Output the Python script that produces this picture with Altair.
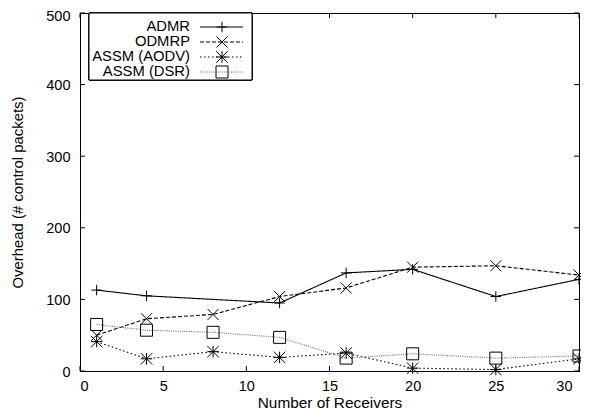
import altair as alt
import pandas as pd

# ---- data ----
series = ["ADMR", "ODMRP", "ASSM (AODV)", "ASSM (DSR)"]
x_admr = [1, 4, 12, 16, 20, 25, 30]
y_admr = [113, 105, 95, 137, 142, 104, 128]
x_common = [1, 4, 8, 12, 16, 20, 25, 30]
y_odmrp = [50, 73, 79, 104, 116, 145, 147, 134]
y_aodv = [41, 17, 27, 19, 25, 4, 2, 17]
y_dsr = [65, 57, 54, 47, 18, 24, 18, 21]
x_ticks = [0, 5, 10, 15, 20, 25, 30]
y_ticks = [0, 100, 200, 300, 400, 500]

rows = []
for x, y in zip(x_admr, y_admr):
    rows.append({"series": "ADMR", "x": x, "y": y})
for name, ys in [("ODMRP", y_odmrp), ("ASSM (AODV)", y_aodv), ("ASSM (DSR)", y_dsr)]:
    for x, y in zip(x_common, ys):
        rows.append({"series": name, "x": x, "y": y})
df = pd.DataFrame(rows)
df_leg = pd.DataFrame({"series": series, "row": list(range(len(series)))})
df_xt = pd.DataFrame({"t": x_ticks})
df_yt = pd.DataFrame({"t": y_ticks})

W, H = 499, 358
FONT = "Liberation Sans"

dash_scale = alt.Scale(domain=series, range=[[1, 0], [4, 2], [1.5, 2.5], [1, 1.2]])
color_scale = alt.Scale(domain=series, range=["#000000", "#000000", "#000000", "#6a6a6a"])
shape_scale = alt.Scale(
    domain=series,
    range=[
        "M-1,0L1,0M0,-1L0,1",
        "M-1,-1L1,1M-1,1L1,-1",
        "M-1,0L1,0M0,-1L0,1M-1,-1L1,1M-1,1L1,-1",
        "M-1,-1L1,-1L1,1L-1,1Z",
    ],
)
size_scale = alt.Scale(domain=series, range=[110, 144, 130, 100])

xs = alt.Scale(domain=[0, 30], nice=False, zero=False)
ys = alt.Scale(domain=[0, 500], nice=False)

x_enc = alt.X(
    "x:Q", scale=xs,
    axis=alt.Axis(values=x_ticks, title="Number of Receivers", ticks=False, tickSize=0,
                  labelPadding=8, grid=False, titleY=36.5, titleBaseline="alphabetic",
                  titleFontSize=15.4,
                  labelOffset={"condition": {"test": "datum.value == 30", "value": -7}, "value": 0}),
)
y_enc = alt.Y(
    "y:Q", scale=ys,
    axis=alt.Axis(values=y_ticks, title="Overhead (# control packets)", ticks=False, tickSize=0,
                  labelPadding=10, grid=False, titleX=-55, titleBaseline="bottom",
                  titleFontSize=14.9,
                  labelOffset={"condition": {"test": "datum.value == 500", "value": 3}, "value": 1}),
)

base = alt.Chart(df)
lines = base.mark_line(strokeWidth=1.1).encode(
    x=x_enc, y=y_enc,
    detail="series:N",
    strokeDash=alt.StrokeDash("series:N", scale=dash_scale, legend=None),
    color=alt.Color("series:N", scale=color_scale, legend=None),
)
points = base.mark_point(filled=False, strokeWidth=1, color="black", opacity=1).encode(
    x="x:Q", y="y:Q",
    shape=alt.Shape("series:N", scale=shape_scale, legend=None),
    size=alt.Size("series:N", scale=size_scale, legend=None),
)

tick_len = 5
xt_bot = alt.Chart(df_xt).mark_rule(color="black", strokeWidth=1).encode(
    x=alt.X("t:Q", scale=xs), y=alt.value(H), y2=alt.value(H - tick_len))
xt_top = alt.Chart(df_xt).mark_rule(color="black", strokeWidth=1).encode(
    x=alt.X("t:Q", scale=xs), y=alt.value(0), y2=alt.value(tick_len))
yt_left = alt.Chart(df_yt).mark_rule(color="black", strokeWidth=1).encode(
    y=alt.Y("t:Q", scale=ys), x=alt.value(0), x2=alt.value(tick_len))
yt_right = alt.Chart(df_yt).mark_rule(color="black", strokeWidth=1).encode(
    y=alt.Y("t:Q", scale=ys), x=alt.value(W), x2=alt.value(W - tick_len))

main = alt.layer(lines, points, xt_bot, xt_top, yt_left, yt_right)

# ---- legend (inside, top-left) ----
ly = alt.Y("row:Q", scale=alt.Scale(domain=[0, 3], range=[14, 59], nice=False, zero=False), axis=None)
leg_box = alt.Chart(df_leg).mark_rect(fill="white", stroke="black", strokeWidth=1).encode(
    x=alt.value(9), x2=alt.value(172), y=alt.value(0), y2=alt.value(67))
leg_text = alt.Chart(df_leg).mark_text(align="right", baseline="middle", font=FONT,
                                       fontSize=14.8, color="black").encode(
    x=alt.value(110), y=ly, text="series:N")
leg_line = alt.Chart(df_leg).mark_rule(strokeWidth=1.1).encode(
    x=alt.value(120), x2=alt.value(163), y=ly,
    strokeDash=alt.StrokeDash("series:N", scale=dash_scale, legend=None),
    color=alt.Color("series:N", scale=color_scale, legend=None),
)
leg_pts = alt.Chart(df_leg).mark_point(filled=False, strokeWidth=1, color="black", opacity=1).encode(
    x=alt.value(142), y=ly,
    shape=alt.Shape("series:N", scale=shape_scale, legend=None),
    size=alt.Size("series:N", scale=size_scale, legend=None),
)
legend = alt.layer(leg_box, leg_line, leg_pts, leg_text)

chart = alt.layer(main, legend).resolve_scale(y="independent").properties(
    width=W, height=H,
    autosize=alt.AutoSizeParams(type="none"),
    padding={"left": 72, "top": 5, "right": 2, "bottom": 40},
).configure_view(stroke="black", strokeWidth=1).configure_axis(
    labelFont=FONT, titleFont=FONT, labelFontSize=14.5, titleFontSize=14.9,
    titleFontWeight="normal", labelColor="black", titleColor="black",
    domainColor="black", domainWidth=1,
)

chart.save("out.html", embed_options={"renderer": "svg", "actions": False})
